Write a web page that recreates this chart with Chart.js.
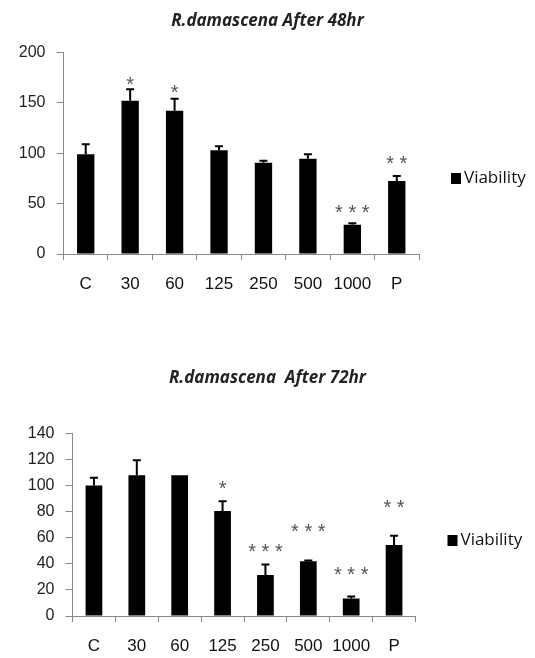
<!DOCTYPE html>
<html>
<head>
<meta charset="utf-8">
<script src="https://cdn.jsdelivr.net/npm/chart.js@4.4.1/dist/chart.umd.min.js"></script>
<style>
  body { margin: 0; background: #fff; }
  #wrap1 { position: absolute; left: 0; top: 0; width: 535px; height: 300px; }
  #wrap2 { position: absolute; left: 0; top: 330px; width: 535px; height: 328px; }
</style>
</head>
<body>
<div id="wrap1"><canvas id="chart48"></canvas></div>
<div id="wrap2"><canvas id="chart72"></canvas></div>
<script>
// concentrations (C = control, P = positive control)
var categories = ['C', '30', '60', '125', '250', '500', '1000', 'P'];

// after 48hr
var viability48 = [99, 152, 142, 103, 90.5, 94.5, 29, 72.5];
var error48     = [10, 11.5, 12, 4, 2, 4.5, 1.5, 5];
var stars48     = ['', '*', '*', '', '', '', '***', '**'];
var starPos48   = [0, 172, 164, 0, 0, 0, 45.5, 94];
var ticks48     = { max: 200, step: 50 };

// after 72hr
var viability72 = [100, 108, 108, 80.5, 31.5, 42, 13.5, 54.5];
var error72     = [6, 11.5, 0, 7.5, 8, 0.5, 1.5, 7];
var stars72     = ['', '', '', '*', '***', '***', '***', '**'];
var starPos72   = [0, 0, 0, 101, 52.5, 68, 35, 86];
var ticks72     = { max: 140, step: 20 };

var axisColor = '#888888';
var labelFont = "'Liberation Sans', Arial, sans-serif";

// error bars + significance stars drawn on top of the bars
var extrasPlugin = {
    id: 'extras',
    afterDatasetsDraw: function (chart) {
        var ctx = chart.ctx;
        var y = chart.scales.y;
        var meta = chart.getDatasetMeta(0);
        var ds = chart.data.datasets[0];
        ctx.save();
        meta.data.forEach(function (bar, i) {
            var v = ds.data[i], e = ds.errors[i];
            if (e > 0) {
                var y0 = y.getPixelForValue(v), y1 = y.getPixelForValue(v + e);
                ctx.strokeStyle = '#000';
                ctx.lineWidth = 2;
                ctx.beginPath();
                ctx.moveTo(bar.x, y0);
                ctx.lineTo(bar.x, y1);
                ctx.moveTo(bar.x - 4, y1);
                ctx.lineTo(bar.x + 4, y1);
                ctx.stroke();
            }
            if (ds.stars[i]) {
                ctx.fillStyle = '#555';
                ctx.font = '20px ' + labelFont;
                ctx.textAlign = 'center';
                ctx.textBaseline = 'middle';
                ctx.fillText(ds.stars[i].split('').join(' '), bar.x, y.getPixelForValue(ds.starPos[i]) + 5);
            }
        });
        ctx.restore();
    }
};

// legend box on the right, like the excel one
var sideLegendPlugin = {
    id: 'sideLegend',
    afterDraw: function (chart) {
        var ctx = chart.ctx;
        var a = chart.chartArea;
        var x = a.right + 32, yc = a.bottom - 76;
        ctx.save();
        ctx.fillStyle = '#000';
        ctx.fillRect(x, yc - 5, 10, 11);
        ctx.fillStyle = '#111';
        ctx.font = "17px 'Open Sans', sans-serif";
        ctx.textAlign = 'left';
        ctx.textBaseline = 'middle';
        ctx.fillText(chart.data.datasets[0].label, x + 13, yc);
        ctx.restore();
    }
};

function makeChart(id, title, values, errors, stars, starPos, yTicks, box) {
    return new Chart(document.getElementById(id), {
        type: 'bar',
        data: {
            labels: categories,
            datasets: [{
                label: 'Viability',
                data: values,
                errors: errors,
                stars: stars,
                starPos: starPos,
                backgroundColor: '#000',
                borderWidth: 0,
                categoryPercentage: 1,
                barPercentage: 0.39
            }]
        },
        options: {
            responsive: true,
            maintainAspectRatio: false,
            animation: false,
            layout: { padding: 0 },
            plugins: {
                legend: { display: false },
                tooltip: { enabled: false },
                title: {
                    display: true,
                    text: title,
                    color: '#222',
                    font: { family: "'Open Sans', sans-serif", size: 17, weight: 'bold', style: 'italic', lineHeight: 1.2 },
                    padding: { top: box.titleTop, bottom: box.titleBottom }
                }
            },
            scales: {
                x: {
                    grid: { drawOnChartArea: false, offset: true, tickLength: 6, color: axisColor },
                    border: { color: axisColor, width: 1 },
                    ticks: { color: '#111', padding: 14, maxRotation: 0, minRotation: 0, autoSkip: false,
                             font: { family: labelFont, size: 17 } },
                    afterFit: function (s) { s.height = box.xHeight; }
                },
                y: {
                    min: 0,
                    max: yTicks.max,
                    grid: { drawOnChartArea: false, tickLength: 7, color: axisColor },
                    border: { color: axisColor, width: 1 },
                    ticks: { stepSize: yTicks.step, color: '#222', padding: 11, font: { family: labelFont, size: 16 } },
                    afterFit: function (s) { s.width = box.left; }
                },
                // empty axis on the right, only keeps room for the legend
                side: {
                    position: 'right',
                    display: true,
                    grid: { display: false },
                    border: { display: false },
                    ticks: { display: false },
                    afterFit: function (s) { s.width = box.right; }
                }
            }
        },
        plugins: [extrasPlugin, sideLegendPlugin]
    });
}

window.onload = function () {
    makeChart('chart48', 'R.damascena After 48hr', viability48, error48, stars48, starPos48, ticks48,
        { left: 63.5, right: 116, titleTop: 10.5, titleBottom: 21.5, xHeight: 46 });
    makeChart('chart72', 'R.damascena  After 72hr', viability72, error72, stars72, starPos72, ticks72,
        { left: 72.5, right: 119.5, titleTop: 38, titleBottom: 45, xHeight: 42 });
};
</script>
</body>
</html>
